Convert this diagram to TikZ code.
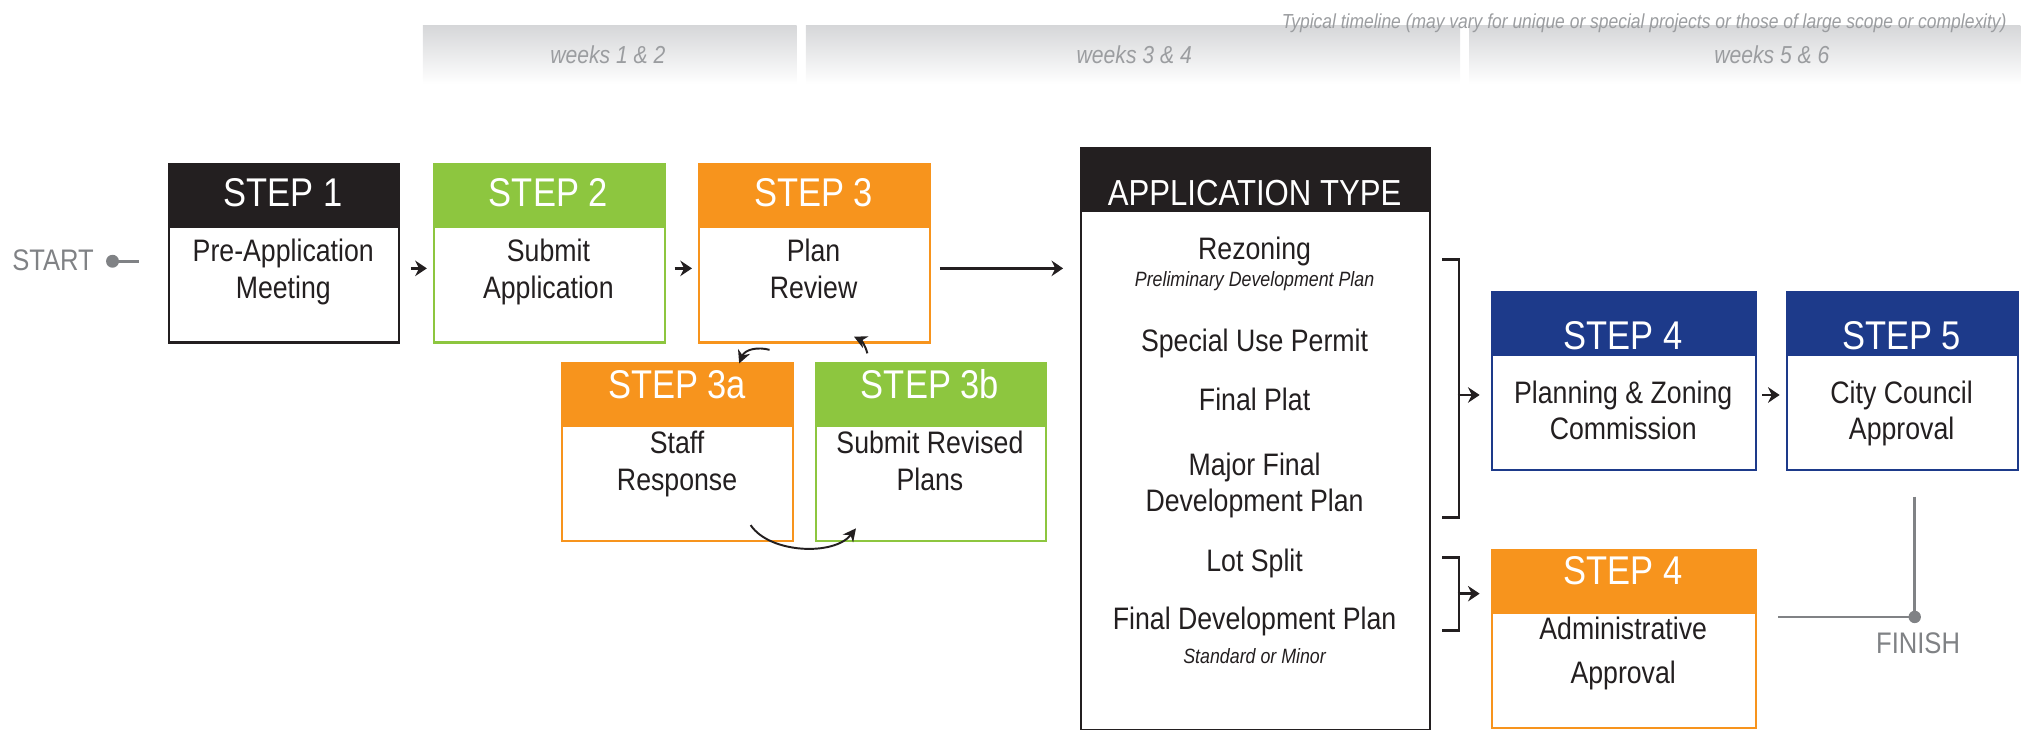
\documentclass[tikz,border=0pt]{standalone}
\usepackage{fontspec}
\setmainfont{Liberation Sans}[FakeStretch=0.86]
\usepackage{xcolor}
\usetikzlibrary{arrows.meta}

\definecolor{ink}{HTML}{231F20}
\definecolor{stepgreen}{HTML}{8DC63F}
\definecolor{steporange}{HTML}{F7941D}
\definecolor{stepblue}{HTML}{1D3A8A}
\definecolor{barshade}{HTML}{D6D7D9}
\definecolor{weektext}{HTML}{9B9DA0}
\definecolor{marker}{HTML}{808285}

\begin{document}
\begin{tikzpicture}[x=1pt, y=-1pt,
  box/.style={draw=#1, line width=1.6pt, fill=white, inner sep=0pt, anchor=north west},
  head/.style={fill=#1, inner sep=0pt, anchor=north west, minimum height=50pt},
  title/.style={text=white, anchor=base, font=\fontsize{31}{31}\selectfont},
  body/.style={text=ink, anchor=base, align=center, font=\fontsize{24}{29}\selectfont},
  sub/.style={text=ink, anchor=base, font=\itshape\fontsize{16}{16}\selectfont},
  week/.style={text=weektext, anchor=base, font=\itshape\fontsize{19}{19}\selectfont},
  link/.style={ink, line width=1.8pt, -{Stealth[length=9pt, width=12pt]}},
  turn/.style={ink, line width=1.5pt, -{Stealth[length=10pt, width=10pt]}}]

  % page size
  \useasboundingbox (0,0) rectangle (1568,564.4);

  % timeline bars along the top
  \shade[top color=barshade, bottom color=white] (327,20) rectangle (616,65);
  \shade[top color=barshade, bottom color=white] (623,20) rectangle (1129,65);
  \shade[top color=barshade, bottom color=white] (1136,20) rectangle (1562,65);
  \node[week] (w12) at (470,49) {weeks 1 \& 2};
  \node[week] (w34) at (877,49) {weeks 3 \& 4};
  \node[week] (w56) at (1370,49) {weeks 5 \& 6};
  \node[anchor=base east, text=weektext, font=\itshape\fontsize{15.7}{15.7}\selectfont] (note) at (1555,22)
    {Typical timeline (may vary for unique or special projects or those of large scope or complexity)};

  % start marker
  \node[text=marker, anchor=base, font=\fontsize{23}{23}\selectfont] (start) at (41,209) {START};
  \coordinate (startdot) at (87,202);
  \draw[marker, line width=2.5pt] (startdot) -- (107.5,202);
  \fill[marker] (startdot) circle (5);

  % steps 1 to 3 (body nodes sit on the baseline of their last line)
  \node[box=ink, minimum width=178pt, minimum height=138pt] (s1) at (130,126) {};
  \node[head=ink, minimum width=178pt] (h1) at (130,126) {};
  \node[title] (t1) at (219,160) {STEP 1};
  \node[body] (b1) at (219,231) {Pre-Application\\Meeting};

  \node[box=stepgreen, minimum width=178pt, minimum height=138pt] (s2) at (335,126) {};
  \node[head=stepgreen, minimum width=178pt] (h2) at (335,126) {};
  \node[title] (t2) at (424,160) {STEP 2};
  \node[body] (b2) at (424,231) {Submit\\Application};

  \node[box=steporange, minimum width=178pt, minimum height=138pt] (s3) at (540,126) {};
  \node[head=steporange, minimum width=178pt] (h3) at (540,126) {};
  \node[title] (t3) at (629,160) {STEP 3};
  \node[body] (b3) at (629,231) {Plan\\Review};

  % review loop
  \node[box=steporange, minimum width=178pt, minimum height=137.5pt] (s3a) at (434,280) {};
  \node[head=steporange, minimum width=178pt] (h3a) at (434,280) {};
  \node[title] (t3a) at (523.5,307.8) {STEP 3a};
  \node[body] (b3a) at (523.5,379.5) {Staff\\Response};

  \node[box=stepgreen, minimum width=178pt, minimum height=137.5pt] (s3b) at (630,280) {};
  \node[head=stepgreen, minimum width=178pt] (h3b) at (630,280) {};
  \node[title] (t3b) at (719,307.8) {STEP 3b};
  \node[body] (b3b) at (719,379.5) {Submit Revised\\Plans};

  % application types
  \node[box=ink, minimum width=270pt, minimum height=449.7pt] (app) at (835,114) {};
  \node[head=ink, minimum width=270pt] (happ) at (835,114) {};
  \node[title, font=\fontsize{28}{28}\selectfont] (tapp) at (970,158.5) {APPLICATION TYPE};
  \node[body] (rez) at (970,200.5) {Rezoning};
  \node[sub] (rezsub) at (970,221.6) {Preliminary Development Plan};
  \node[body] (sup) at (970,272) {Special Use Permit};
  \node[body] (fplat) at (970,317) {Final Plat};
  \node[body, font=\fontsize{24}{28.3}\selectfont] (mfdp) at (970,395.6) {Major Final\\Development Plan};
  \node[body] (lot) at (970,442) {Lot Split};
  \node[body] (fdp) at (970,487) {Final Development Plan};
  \node[sub] (fdpsub) at (970,512.9) {Standard or Minor};

  % steps 4 and 5
  \node[box=stepblue, minimum width=204pt, minimum height=137.7pt] (p4) at (1153,225) {};
  \node[head=stepblue, minimum width=204pt] (hp4) at (1153,225) {};
  \node[title] (tp4) at (1255,270.6) {STEP 4};
  \node[body, font=\fontsize{24}{28}\selectfont] (bp4) at (1255,339.8) {Planning \& Zoning\\Commission};

  \node[box=stepblue, minimum width=178.6pt, minimum height=137.7pt] (p5) at (1381,225) {};
  \node[head=stepblue, minimum width=178.6pt] (hp5) at (1381,225) {};
  \node[title] (tp5) at (1470.3,270.6) {STEP 5};
  \node[body, font=\fontsize{24}{28}\selectfont] (bp5) at (1470.3,339.8) {City Council\\Approval};

  \node[box=steporange, minimum width=204pt, minimum height=137.6pt] (a4) at (1153,424.6) {};
  \node[head=steporange, minimum width=204pt] (ha4) at (1153,424.6) {};
  \node[title] (ta4) at (1255,452) {STEP 4};
  \node[body, font=\fontsize{24}{33.5}\selectfont] (ba4) at (1255,528.3) {Administrative\\Approval};

  % connectors
  \coordinate (row) at (0,207.5);
  \draw[link, shorten <=8pt, shorten >=5pt] (s1.east |- row) -- (s2.west |- row);
  \draw[link, shorten <=7pt, shorten >=5pt] (s2.east |- row) -- (s3.west |- row);
  \draw[link, shorten <=7pt, shorten >=13pt] (s3.east |- row) -- (app.west |- row);

  \coordinate (c3out) at (595,270.5);
  \coordinate (c3ain) at (571.5,281);
  \draw[turn] (c3out) .. controls (586,268) and (576,270) .. (c3ain);
  \coordinate (c3bout) at (670.6,273.2);
  \coordinate (c3in) at (660.3,260.3);
  \draw[turn] (c3bout) .. controls (669,267) and (666,263) .. (c3in);
  \coordinate (c3aout) at (580.4,406);
  \coordinate (c3bin) at (661.8,408.5);
  \draw[turn] (c3aout) .. controls (595,428) and (645,430) .. (c3bin);

  % brackets into step 4
  \draw[ink, line width=2pt] (1115,200.5) -| (1128,400) -- (1115,400);
  \draw[ink, line width=2pt] (1115,431) -| (1128,487.6) -- (1115,487.6);
  \coordinate (brk1) at (1127,305.4);
  \coordinate (brk2) at (1127,459);
  \draw[link, shorten >=9pt] (brk1) -- (p4.west |- brk1);
  \draw[link, shorten >=9pt] (brk2) -- (a4.west |- brk2);
  \draw[link, shorten <=4pt, shorten >=5pt] (p4.east |- brk1) -- (p5.west |- brk1);

  % finish marker
  \coordinate (fin) at (1480.4,477);
  \draw[marker, line width=2.2pt] (1480.4,384) -- (fin) -- (1375,477);
  \fill[marker] (fin) circle (4.8);
  \node[text=marker, anchor=base, font=\fontsize{23}{23}\selectfont] (finish) at (1483,505) {FINISH};
\end{tikzpicture}
\end{document}
